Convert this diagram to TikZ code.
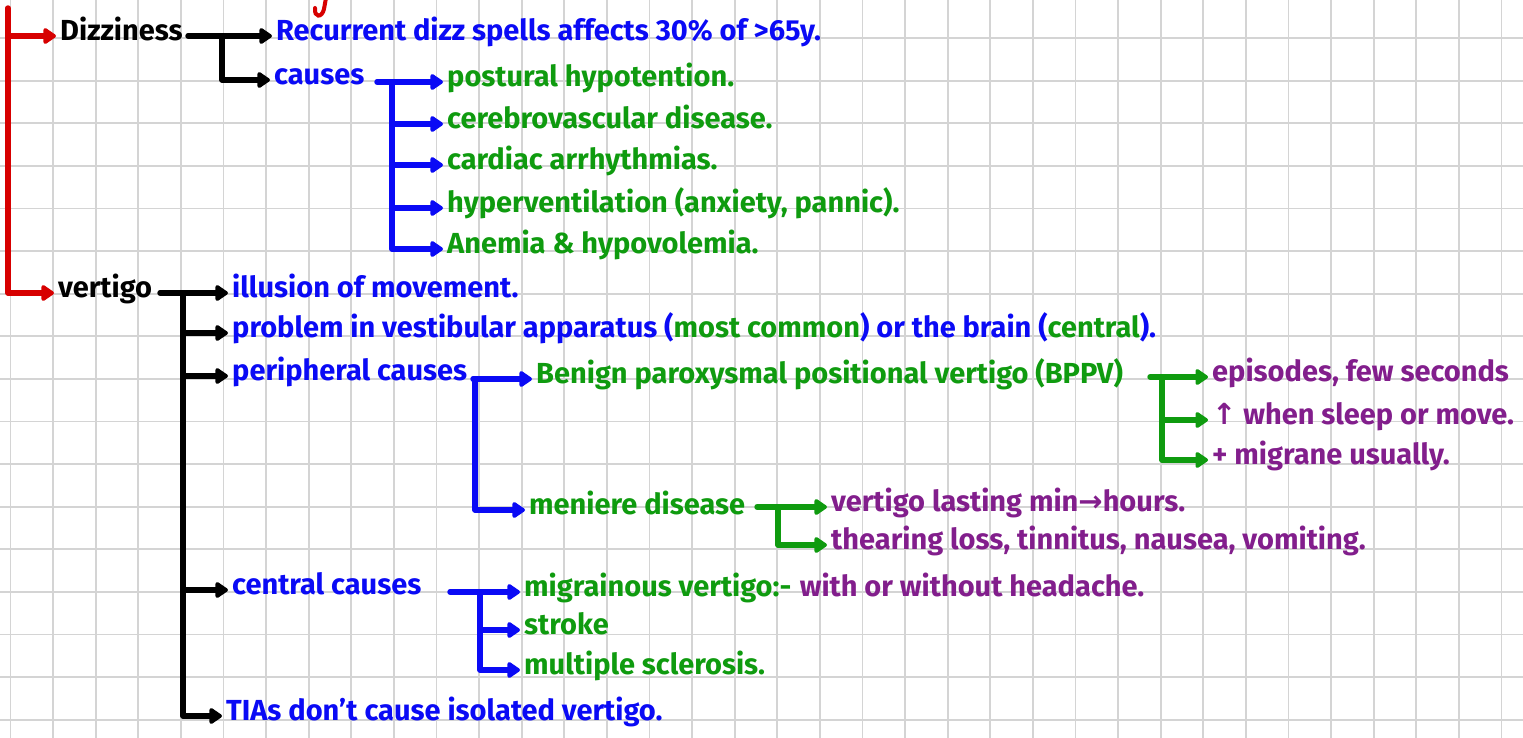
\documentclass[tikz,border=0pt]{standalone}
\usepackage{fontspec}
\setmainfont{Fira Sans}
\newfontfamily\arrowfont{DejaVu Sans}
\usetikzlibrary{arrows.meta,calc,positioning}
\definecolor{InkRed}{RGB}{215,0,0}
\definecolor{InkBlue}{RGB}{10,10,245}
\definecolor{InkGreen}{RGB}{15,155,15}
\definecolor{InkPurple}{RGB}{130,30,140}
\definecolor{GridGray}{RGB}{212,212,212}
\newcommand{\hand}{\fontsize{29}{34}\selectfont\bfseries}
\tikzset{
  gridline/.style={draw=GridGray,line width=1.8pt},
  link/.style={line width=5.4pt,line cap=round,line join=round,
    -{Triangle[length=14pt,width=18pt,round]}},
  note/.style={anchor=west,inner sep=0pt,inner xsep=4pt,
    text height=16pt,text depth=7pt,font=\hand},
}

\begin{document}
\begin{tikzpicture}[x=1pt,y=-1pt]
\useasboundingbox (0,0) rectangle (1523,738);
\fill[white] (0,0) rectangle (1523,738);
% squared paper
\foreach \i in {0,...,35}
  \draw[gridline] ({10.5+42.6*\i},0) -- ({10.5+42.6*\i},738);
\foreach \j in {1,...,17}
  \draw[gridline] (0,{-4.5+42.6*\j}) -- (1523,{-4.5+42.6*\j});
% leftover of the page above
\draw[InkRed,line width=4pt,line cap=round] (326,-2) -- (324,9)
  .. controls (322,18) and (314,18) .. (315,8);

% dizziness
\node[note] (dizz) at (56,36) {Dizziness};
\node[note,InkBlue] (recur) at (272,36) {Recurrent dizz spells affects 30\% of >65y.};
\node[note,InkBlue] (causes) at (270,80) {causes};
\node[note,InkGreen] (postural) at (443,82) {postural hypotention.};
\node[note,InkGreen] (cerebro) at (443,124) {cerebrovascular disease.};
\node[note,InkGreen] (cardiac) at (443,165) {cardiac arrhythmias.};
\node[note,InkGreen] (hypervent) at (443,208) {hyperventilation (anxiety, pannic).};
\node[note,InkGreen] (anemia) at (443,249) {Anemia \& hypovolemia.};

% vertigo
\node[note] (vert) at (54,293) {vertigo};
\node[note,InkBlue] (illusion) at (228,293) {illusion of movement.};
\node[note,InkBlue] (problem) at (228,333) {problem in vestibular apparatus ({\color{InkGreen}most common}) or the brain ({\color{InkGreen}central}).};
\node[note,InkBlue] (periph) at (228,376) {peripheral causes};
\node[note,InkGreen] (bppv) at (532,379) {Benign paroxysmal positional vertigo (BPPV)};
\node[note,InkPurple] (episodes) at (1208,377) {episodes, few seconds};
\node[note,InkPurple] (sleep) at (1208,420) {{\arrowfont\bfseries ↑} when sleep or move.};
\node[note,InkPurple] (migr) at (1208,460) {+ migrane usually.};
\node[note,InkGreen] (meniere) at (525,510) {meniere disease};
\node[note,InkPurple] (lasting) at (827,507) {vertigo lasting min{\arrowfont\bfseries →}hours.};
\node[note,InkPurple] (hearing) at (827,545) {thearing loss, tinnitus, nausea, vomiting.};
\node[note,InkBlue] (central) at (228,590) {central causes};
\node[note,InkGreen] (migvert) at (520,592) {migrainous vertigo:-};
\node[note,InkPurple,right=0pt of migvert] (headache) {with or without headache.};
\node[note,InkGreen] (stroke) at (520,630) {stroke};
\node[note,InkGreen] (ms) at (520,670) {multiple sclerosis.};
\node[note,InkBlue] (tias) at (222,716) {TIAs don't cause isolated vertigo.};

% trunks
\coordinate (rd0) at (8,8);
\coordinate (rd1) at (8,36);
\coordinate (dz0) at (188,36);
\coordinate (dz1) at (222,36);
\coordinate (cs0) at (377,82);
\coordinate (cs1) at (392,82);
\coordinate (vt0) at (160,293);
\coordinate (vt1) at (183,293);
\coordinate (pc0) at (473,379);
\coordinate (pc1) at (475,379);
\coordinate (bp0) at (1150,377);
\coordinate (bp1) at (1162,377);
\coordinate (mn0) at (757,507);
\coordinate (mn1) at (778,507);
\coordinate (cc0) at (450,592);
\coordinate (cc1) at (480,592);

\draw[link,InkRed] (rd0) |- (vert.west);
\draw[link,InkRed] (rd1) -- (dizz.west);
\draw[link] (dz0) -- (recur.west);
\draw[link] (dz1) |- (causes.west);
\draw[link,InkBlue] (cs0) -- (postural.west);
\foreach \t in {cerebro,cardiac,hypervent,anemia}
  \draw[link,InkBlue] (cs1) |- (\t.west);
\draw[link] (vt0) -- (illusion.west);
\foreach \t in {problem,periph,central,tias}
  \draw[link] (vt1) |- (\t.west);
\draw[link,InkBlue] (pc0) -- (bppv.west);
\draw[link,InkBlue] (pc1) |- (meniere.west);
\draw[link,InkGreen] (bp0) -- (episodes.west);
\foreach \t in {sleep,migr}
  \draw[link,InkGreen] (bp1) |- (\t.west);
\draw[link,InkGreen] (mn0) -- (lasting.west);
\draw[link,InkGreen] (mn1) |- (hearing.west);
\draw[link,InkBlue] (cc0) -- (migvert.west);
\foreach \t in {stroke,ms}
  \draw[link,InkBlue] (cc1) |- (\t.west);
\end{tikzpicture}
\end{document}
